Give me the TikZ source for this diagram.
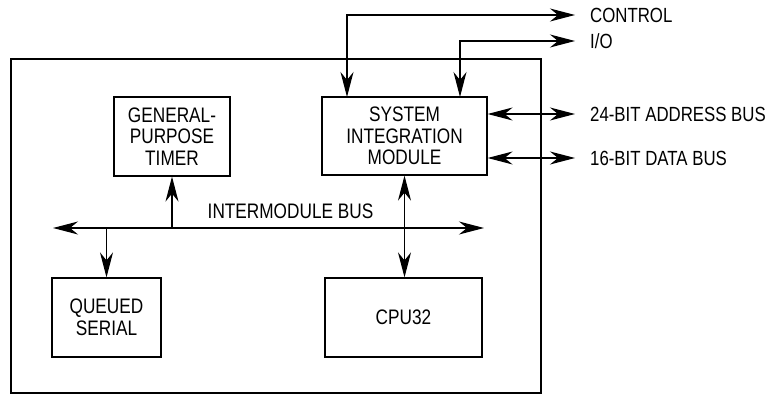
\documentclass[tikz,border=0pt]{standalone}
\usepackage{fontspec}
\setmainfont{Liberation Sans}[FakeStretch=0.82]
\usetikzlibrary{positioning, arrows.meta}

\begin{document}
\begin{tikzpicture}[
    x=1pt, y=-1pt,
    module/.style={draw, line width=1.2pt, align=center, inner sep=0pt, font=\fontsize{21}{21.5}\selectfont},
    sigtext/.style={anchor=west, inner sep=0pt, font=\fontsize{20.5}{21}\selectfont},
    tip/.tip={Stealth[length=25pt, width=13pt, inset=8pt]},
    wire/.style={line width=1.2pt, -tip},
    twoway/.style={line width=1.2pt, tip-tip}
]
\useasboundingbox (0,0) rectangle (774,395);

% chip outline
\node[draw, line width=2.8pt, minimum width=530pt, minimum height=334pt, inner sep=0pt] (chip) at (276,226) {};

% modules
\node[module, minimum width=116pt, minimum height=79pt] (gpt) at (172,136.5) {GENERAL-\\PURPOSE\\TIMER};
\node[module, minimum width=165pt, minimum height=78pt] (sim) at (404.5,136) {SYSTEM\\INTEGRATION\\MODULE};
\node[module, minimum width=109pt, minimum height=79pt] (qsm) at (106.5,317.5) {QUEUED\\SERIAL};
\node[module, minimum width=157pt, minimum height=79pt] (cpu) at (403.5,317.5) {CPU32};

% intermodule bus
\coordinate (busl) at (53,228);
\coordinate (busr) at (484,228);
\draw[twoway] (busl) -- (busr);
\node[inner sep=0pt, font=\fontsize{21}{21}\selectfont] (buslbl) at (290.5,211) {INTERMODULE BUS};

\draw[wire] (gpt.south |- busl) -- (gpt.south);
\draw[wire] (qsm.north |- busl) -- (qsm.north);
\draw[twoway] (sim.south) -- (sim.south |- cpu.north);

% external signals
\coordinate (ctrl) at (575,15);
\coordinate (io) at (575,41);
\coordinate (addr) at (575,114);
\coordinate (data) at (575,158);

\draw[twoway] (ctrl) -| (347,97);
\draw[twoway] (io) -| (460,97);
\draw[twoway] (sim.east |- addr) -- (addr);
\draw[twoway] (sim.east |- data) -- (data);

\node[sigtext, right=15pt of ctrl] (ctrllbl) {CONTROL};
\node[sigtext, right=15pt of io] (iolbl) {I/O};
\node[sigtext, right=15pt of addr] (addrlbl) {24-BIT ADDRESS BUS};
\node[sigtext, right=15pt of data] (datalbl) {16-BIT DATA BUS};
\end{tikzpicture}
\end{document}
